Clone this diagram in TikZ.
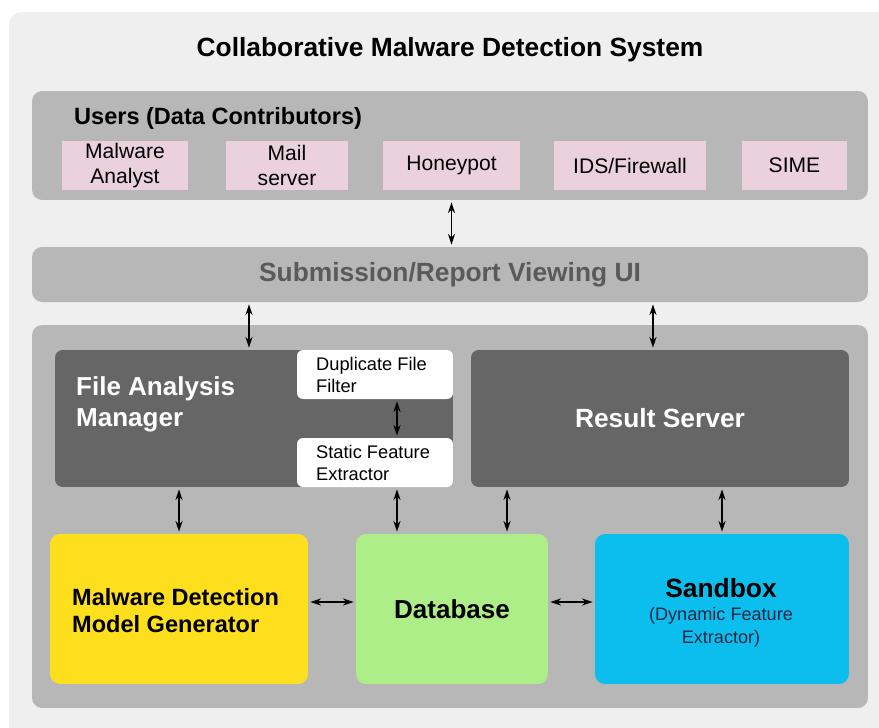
\documentclass[tikz,border=0pt]{standalone}
\usepackage{fontspec}
\setmainfont{Liberation Sans}
\usetikzlibrary{arrows.meta,positioning}
\definecolor{bgcol}{HTML}{EFEFEF}
\definecolor{panelcol}{HTML}{B7B7B7}
\definecolor{pinkcol}{HTML}{EAD1DC}
\definecolor{darkcol}{HTML}{666666}
\definecolor{yellowcol}{HTML}{FDDF1E}
\definecolor{greencol}{HTML}{ADEE88}
\definecolor{bluecol}{HTML}{0CBEEE}
\definecolor{uitext}{HTML}{5A5A5A}
\definecolor{navytext}{HTML}{1B2742}
\tikzset{
  panel/.style={fill=panelcol, rounded corners=0.2cm, inner sep=0pt},
  userbox/.style={fill=pinkcol, minimum height=0.98cm, align=center, inner sep=0pt, font=\fontsize{12}{14.5}\selectfont},
  darkbox/.style={fill=darkcol, rounded corners=0.15cm, minimum width=7.56cm, minimum height=2.74cm, inner sep=0pt},
  whitebox/.style={fill=white, rounded corners=0.12cm, minimum width=3.12cm, minimum height=0.98cm, inner sep=0pt},
  bigbox/.style={rounded corners=0.2cm, minimum height=3cm, inner sep=0pt},
  biarrow/.style={{Stealth[length=6pt,width=4pt]}-{Stealth[length=6pt,width=4pt]}, thick, shorten <=1.5\pgflinewidth, shorten >=1.5\pgflinewidth}
}
\begin{document}
\begin{tikzpicture}[x=0.02cm, y=-0.02cm, line join=round]
\useasboundingbox (0,0) rectangle (879,727);
\clip (0,0) rectangle (879,727);
% background
\fill[bgcol, rounded corners=0.25cm] (9,12) rectangle (900,750);
\node[font=\fontsize{15}{17}\selectfont\bfseries] (title) at (450,50) {Collaborative Malware Detection System};

% users
\node[panel, minimum width=16.72cm, minimum height=2.18cm] (users) at (450,145.5) {};
\node[anchor=west, font=\fontsize{13.4}{15}\selectfont\bfseries] (userslbl) at (68,118) {Users (Data Contributors)};
\node[userbox, minimum width=2.52cm] (analyst) at (125,165.5) {Malware\\Analyst};
\node[userbox, minimum width=2.44cm] (mail) at (287,165.5) {Mail\\server};
\node[userbox, minimum width=2.74cm] (honey) at (451.5,165.5) {\raisebox{-2pt}{Honeypot}};
\node[userbox, minimum width=3.04cm] (ids) at (630,165.5) {IDS/Firewall};
\node[userbox, minimum width=2.1cm] (sime) at (794.5,165.5) {SIME};

% UI
\node[panel, minimum width=16.72cm, minimum height=1.1cm, text=uitext, font=\fontsize{15}{17}\selectfont\bfseries] (ui) at (450,274.5) {Submission/Report Viewing UI};

% inner panel
\node[panel, minimum width=16.72cm, minimum height=7.66cm] (core) at (450,516.5) {};
\node[darkbox, minimum width=7.96cm] (fam) at (254,418.5) {};
\node[anchor=west, align=left, text=white, font=\fontsize{14.8}{17.5}\selectfont\bfseries] (famlbl) at (70,404.5) {File Analysis\\Manager};
\node[whitebox] (dff) at (375,374.5) {};
\node[anchor=west, align=left, font=\fontsize{10.4}{12}\selectfont] (dfflbl) at (310,375) {Duplicate File\\Filter};
\node[whitebox] (sfe) at (375,462.5) {};
\node[anchor=west, align=left, font=\fontsize{10.4}{12}\selectfont] (sfelbl) at (310,463) {Static Feature\\Extractor};
\node[darkbox, text=white, font=\fontsize{15}{17}\selectfont\bfseries] (result) at (660,418.5) {Result Server};

\node[bigbox, fill=yellowcol, minimum width=5.16cm] (mdmg) at (179,609) {};
\node[anchor=west, align=left, font=\fontsize{13.4}{15.5}\selectfont\bfseries] (mdmglbl) at (66,610.5) {Malware Detection\\Model Generator};
\node[bigbox, fill=greencol, minimum width=3.84cm, font=\fontsize{14.8}{16}\selectfont\bfseries] (db) at (452,609) {Database};
\node[bigbox, fill=bluecol, minimum width=5.08cm] (sb) at (722,609) {};
\node[align=center, font=\fontsize{10.3}{13}\selectfont, text=navytext] (sblbl) at (721,613)
  {{\fontsize{15}{16}\selectfont\bfseries\color{black}Sandbox}\\(Dynamic Feature\\Extractor)};

% connectors
\draw[biarrow] (users.south -| honey.south) -- (ui.north -| honey.south);
\draw[biarrow] (ui.south -| 249,0) -- (fam.north -| 249,0);
\draw[biarrow] (ui.south -| 653,0) -- (result.north -| 653,0);
\draw[biarrow] (dff.south -| 397,0) -- (sfe.north -| 397,0);
\draw[biarrow] (fam.south -| mdmg.north) -- (mdmg.north);
\draw[biarrow] (sfe.south -| 397,0) -- (db.north -| 397,0);
\draw[biarrow] (result.south -| 507,0) -- (db.north -| 507,0);
\draw[biarrow] (result.south -| sb.north) -- (sb.north);
\draw[biarrow] (mdmg.east |- 0,602) -- (db.west |- 0,602);
\draw[biarrow] (db.east |- 0,602) -- (sb.west |- 0,602);
\end{tikzpicture}
\end{document}
